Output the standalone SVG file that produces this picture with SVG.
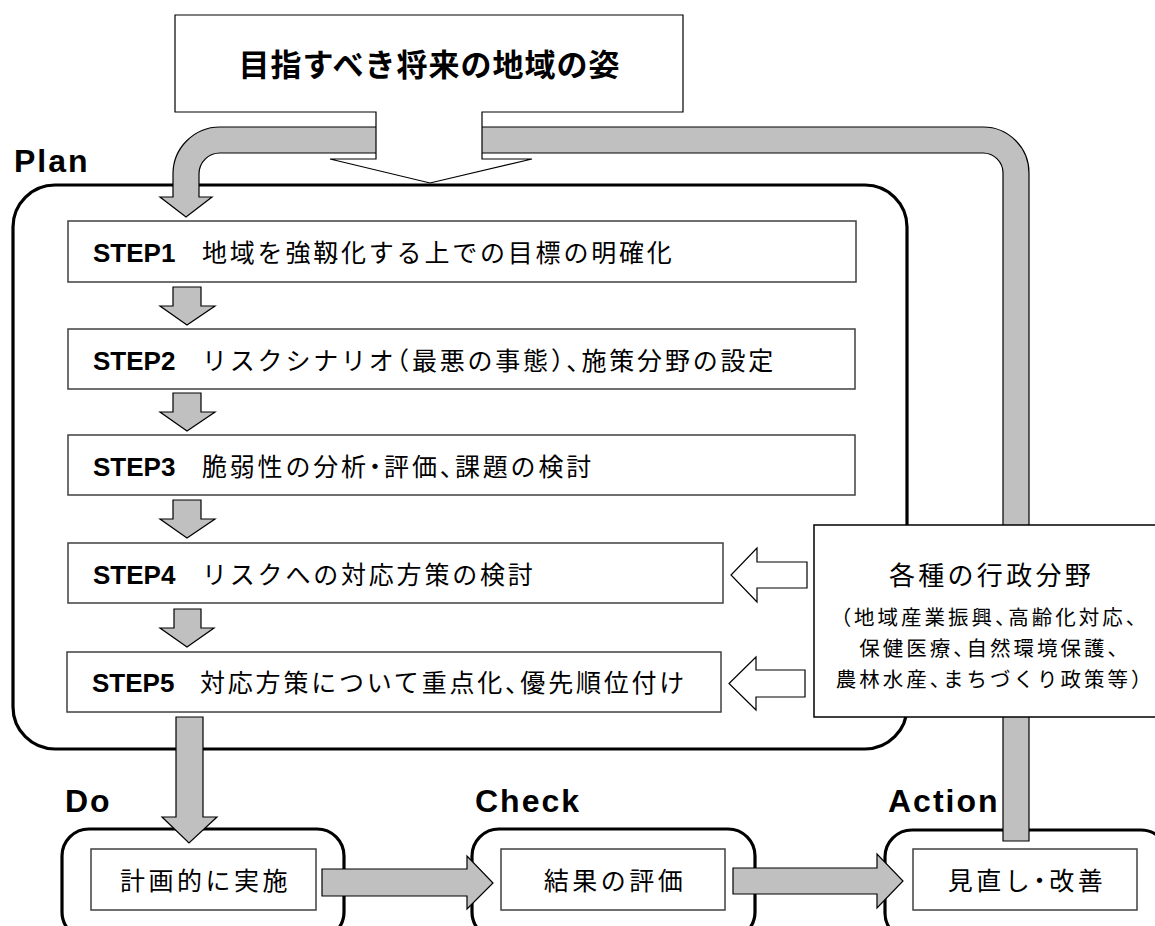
<svg xmlns="http://www.w3.org/2000/svg" width="1155" height="926" viewBox="0 0 1155 926">
<style>
.cjk{font-family:"Noto Sans CJK JP","Noto Sans CJK SC",sans-serif;font-feature-settings:"halt";fill:#000}
.step{font-size:25px;letter-spacing:2.8px}
.lat{font-family:"Liberation Sans",Arial,sans-serif;font-weight:bold;fill:#000}
.stepno{font-size:26px}
.phase{font-size:32px;letter-spacing:2px}
.frame{fill:#fff;stroke:#000;stroke-width:3.2}
.box{fill:#fff;stroke:#404040;stroke-width:1.5}
.gray{fill:#c0c0c0;stroke:#000;stroke-width:1.2}
.hollow{fill:#fff;stroke:#000;stroke-width:1.2}
.lbl{font-size:25px;letter-spacing:3.5px;text-anchor:middle}
</style>
<rect width="1155" height="926" fill="#fff"/>

<g id="plan">
<text class="lat phase" x="14" y="172">Plan</text>
<rect class="frame" x="13" y="185" width="894" height="564" rx="42"/>
</g>

<g id="do">
<text class="lat phase" x="65" y="812">Do</text>
<rect class="frame" x="62" y="829" width="282" height="110" rx="27"/>
<rect class="box" x="91" y="849" width="225" height="61"/>
<text class="cjk lbl" x="205.5" y="890">計画的に実施</text>
</g>

<g id="check">
<text class="lat phase" x="475" y="812">Check</text>
<rect class="frame" x="472" y="829" width="283" height="110" rx="27"/>
<rect class="box" x="501" y="849" width="224" height="61"/>
<text class="cjk lbl" x="615" y="890">結果の評価</text>
</g>

<g id="action">
<text class="lat phase" x="888" y="812">Action</text>
<rect class="frame" x="885" y="830" width="283" height="110" rx="27"/>
<rect class="box" x="913" y="849" width="224" height="61"/>
<text class="cjk lbl" x="1027" y="890">見直し・改善</text>
</g>

<g id="step1">
<rect class="box" x="68" y="221" width="788" height="61"/>
<text class="lat stepno" x="93" y="262">STEP1</text>
<text class="cjk step" x="202" y="262">地域を強靱化する上での目標の明確化</text>
</g>
<g id="step2">
<rect class="box" x="68" y="329" width="787" height="60"/>
<text class="lat stepno" x="93" y="370">STEP2</text>
<text class="cjk step" x="202" y="370">リスクシナリオ（最悪の事態）、施策分野の設定</text>
</g>
<g id="step3">
<rect class="box" x="68" y="435" width="787" height="60"/>
<text class="lat stepno" x="93" y="476">STEP3</text>
<text class="cjk step" x="202" y="476">脆弱性の分析・評価、課題の検討</text>
</g>
<g id="step4">
<rect class="box" x="68" y="543" width="655" height="60"/>
<text class="lat stepno" x="93" y="584">STEP4</text>
<text class="cjk step" x="202" y="584">リスクへの対応方策の検討</text>
</g>
<g id="step5">
<rect class="box" x="67" y="652" width="654" height="60"/>
<text class="lat stepno" x="92" y="692">STEP5</text>
<text class="cjk step" x="200" y="692">対応方策について重点化、優先順位付け</text>
</g>

<g id="connectors">
<path class="gray" d="M378,127 H220 A47,47 0 0 0 173,174 V197 H160 L186,217 L212,197 H199 V174 A21,21 0 0 1 220,153 H378 Z"/>
<path class="gray" d="M480,127 H983 A46,46 0 0 1 1029,173 V841 H1003 V173 A20,20 0 0 0 983,153 H480 Z"/>
<path class="gray" d="M173,287 H201 V306 H215 L187,325 L160,306 H173 Z"/>
<path class="gray" d="M173,393 H201 V412 H215 L187,431 L160,412 H173 Z"/>
<path class="gray" d="M173,500 H201 V519 H215 L187,538 L160,519 H173 Z"/>
<path class="gray" d="M174,609 H201 V628 H214 L187,647 L160,628 H174 Z"/>
<path class="gray" d="M176,717 H203 V817 H217 L189,843 L162,817 H176 Z"/>
<path class="gray" d="M322,869 H467 V856 L493,883 L467,909 V896 H322 Z"/>
<path class="gray" d="M733,868 H877 V854 L903,881 L877,908 V894 H733 Z"/>
<path class="hollow" d="M807,562 H757 V548 L731,575 L757,602 V588 H807 Z"/>
<path class="hollow" d="M805,670 H756 V657 L729,683.5 L756,710 V697 H805 Z"/>
</g>

<g id="goal">
<path fill="#fff" stroke="#000" stroke-width="1.2" d="M175,15 H683 V112 H482 V159 H532 L430,183 L330,159 H376 V112 H175 Z"/>
<text class="cjk" x="429.5" y="76" font-size="31" font-weight="bold" letter-spacing="1" text-anchor="middle">目指すべき将来の地域の姿</text>
</g>

<g id="admin">
<rect fill="#fff" stroke="#000" stroke-width="1.5" x="814" y="525" width="350" height="192"/>
<text class="cjk" x="991.5" y="585" font-size="26" letter-spacing="3.3" text-anchor="middle">各種の行政分野</text>
<text class="cjk" x="990" y="625" font-size="20.5" letter-spacing="3" text-anchor="middle">（地域産業振興、高齢化対応、</text>
<text class="cjk" x="990" y="656" font-size="20.5" letter-spacing="3" text-anchor="middle">保健医療、自然環境保護、</text>
<text class="cjk" x="990" y="687" font-size="20.5" letter-spacing="3" text-anchor="middle">農林水産、まちづくり政策等）</text>
</g>
</svg>
